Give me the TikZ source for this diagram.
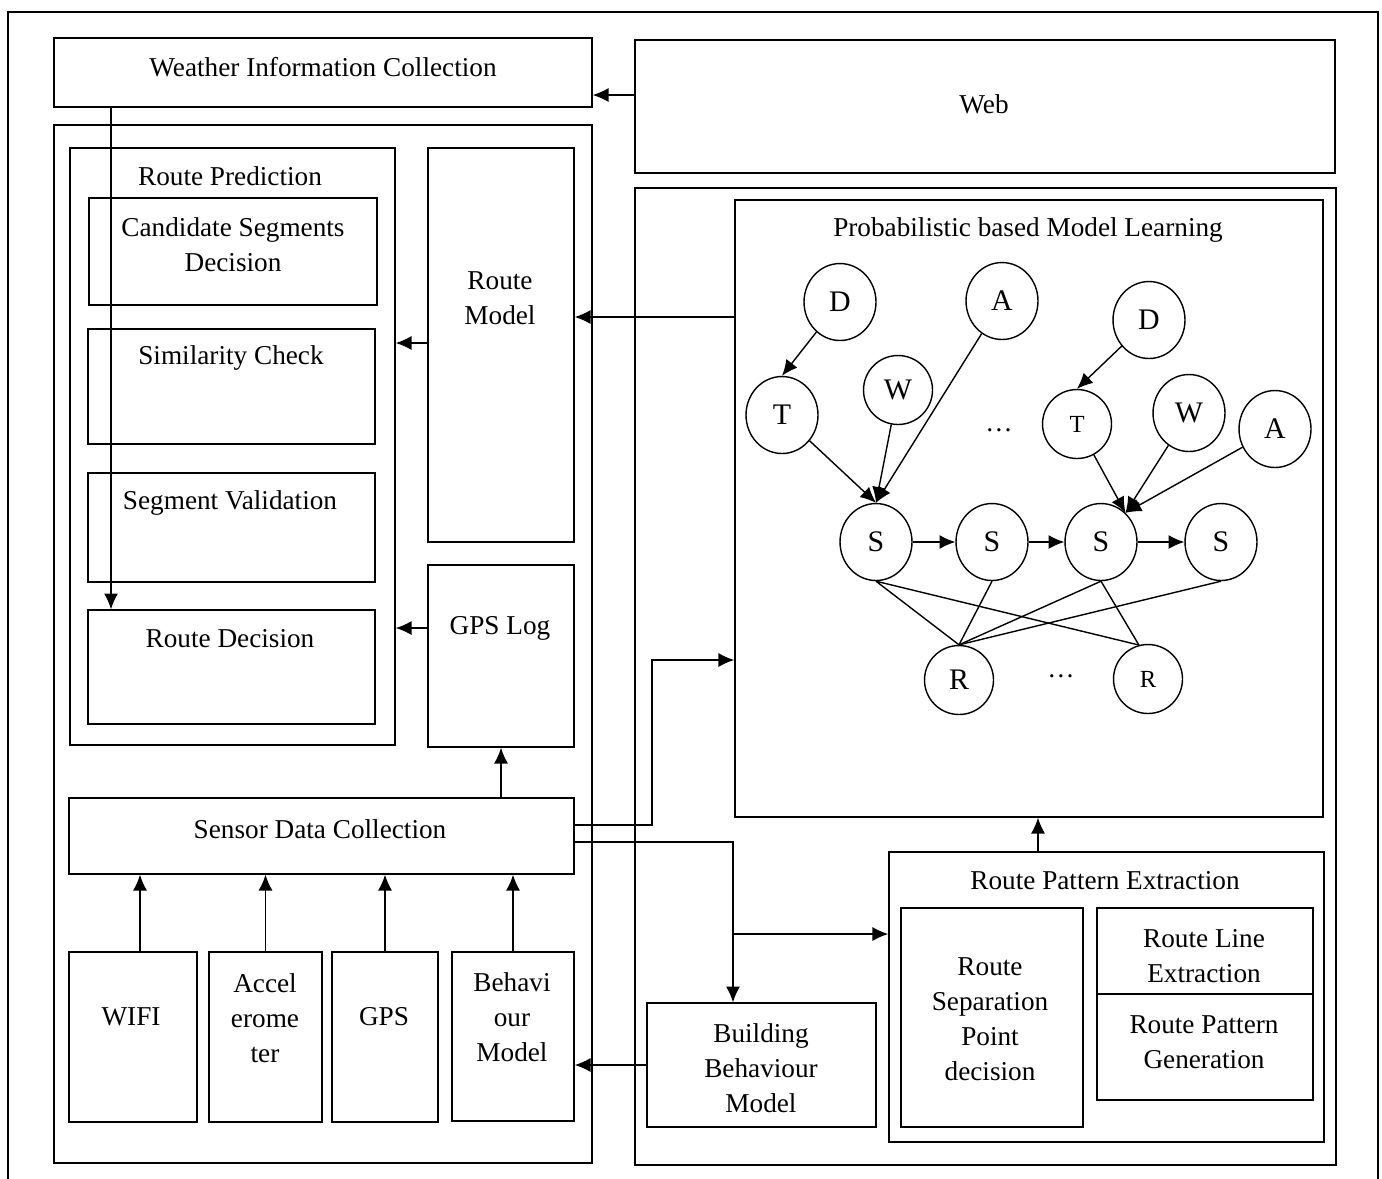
\documentclass[tikz,border=0pt]{standalone}
\usepackage{fontspec}
\setmainfont{Liberation Serif}
\usetikzlibrary{arrows.meta, fit, shapes.geometric}

\begin{document}
\begin{tikzpicture}[x=0.02cm, y=-0.02cm, line width=0.8pt, font=\fontsize{15.5}{20}\selectfont]
	\tikzset{
		box/.style={
			draw,
			inner sep=0pt,
			align=center
		},
		txt/.style={
			align=center,
			inner sep=1pt
		},
		var/.style={
			draw,
			ellipse,
			inner sep=0pt,
			minimum width=1.44cm,
			minimum height=1.54cm,
			font=\fontsize{17}{20}\selectfont
		},
		small var/.style={
			var,
			minimum width=1.38cm,
			minimum height=1.38cm
		},
		flow/.style={-{Latex[length=9pt, width=8pt]}},
	}
	\useasboundingbox (0,0) rectangle (1382,1178);

	% frame
	\draw (8,1190) -- (8,12) -- (1378,12) -- (1378,1190);

	% left part
	\node[box, fit={(54,38) (592,107)}] (weather) {};
	\node[txt] (weathertitle) at (323,67) {Weather Information Collection};
	\node[box, fit={(635,40) (1335,173)}] (web) {};
	\node[txt] (webtitle) at (984,104) {Web};
	\node[box, fit={(54,125) (592,1163)}] (leftpart) {};
	\node[box, fit={(70,148) (395,745)}] (pred) {};
	\node[txt] (predtitle) at (230,176) {Route Prediction};
	\node[box, fit={(89,198) (377,305)}] (cand) {};
	\node[txt] (candtitle) at (233,245) {Candidate Segments\\Decision};
	\node[box, fit={(88,329) (375,444)}] (simcheck) {};
	\node[txt] (simtitle) at (231,358) {Similarity Check};
	\node[box, fit={(88,473) (375,582)}] (segval) {};
	\node[txt] (segvaltitle) at (230,503) {Segment Validation};
	\node[box, fit={(88,610) (375,724)}] (decision) {};
	\node[txt] (decisiontitle) at (230,639) {Route Decision};
	\node[box, fit={(428,148) (574,542)}] (model) {};
	\node[txt] (modeltitle) at (500,298) {Route\\Model};
	\node[box, fit={(428,565) (574,747)}] (gpslog) {};
	\node[txt] (gpslogtitle) at (500,628) {GPS Log};
	\node[box, fit={(69,798) (574,874)}] (sensor) {};
	\node[txt] (sensortitle) at (320,829) {Sensor Data Collection};

	\node[box, fit={(69,952) (197,1122)}] (wifi) {};
	\node[txt] (wifitxt) at (131,1017) {WIFI};
	\node[box, fit={(209,952) (322,1122)}] (accel) {};
	\node[txt] (acceltxt) at (265,1018) {Accel\\erome\\ter};
	\node[box, fit={(332,952) (438,1122)}] (gps) {};
	\node[txt] (gpstxt) at (384,1017) {GPS};
	\node[box, fit={(452,952) (574,1121)}] (behav) {};
	\node[txt] (behavtxt) at (512,1017) {Behavi\\our\\Model};

	% right part
	\node[box, fit={(635,188) (1336,1165)}] (rightpart) {};
	\node[box, fit={(735,200) (1323,817)}] (prob) {};
	\node[txt] (probtitle) at (1028,230) {Probabilistic based Model Learning};
	\node[box, fit={(889,852) (1324,1142)}] (rpe) {};
	\node[txt] (rpetitle) at (1105,881) {Route Pattern Extraction};
	\node[box, fit={(901,908) (1083,1127)}] (rsp) {};
	\node[txt] (rsptitle) at (990,1019) {Route\\Separation\\Point\\decision};
	\node[box, fit={(1097,908) (1313,994)}] (rle) {};
	\node[txt] (rletitle) at (1204,956) {Route Line\\Extraction};
	\node[box, fit={(1097,994) (1313,1100)}] (rpg) {};
	\node[txt] (rpgtitle) at (1204,1042) {Route Pattern\\Generation};
	\node[box, fit={(647,1003) (876,1127)}] (building) {};
	\node[txt] (buildingtitle) at (761,1068) {Building\\Behaviour\\Model};

	% graph
	\node[var] (D1) at (840,302) {D};
	\node[var] (A1) at (1002,301) {A};
	\node[var] (T1) at (782,415) {T};
	\node[small var] (W1) at (898,390) {W};
	\node[txt] (dots1) at (999,430) {\dots};
	\node[var] (D2) at (1149,320) {D};
	\node[small var, font=\fontsize{14}{16}\selectfont] (T2) at (1077,424) {T};
	\node[var] (W2) at (1189,413) {W};
	\node[var] (A2) at (1275,429) {A};
	\node[var] (S1) at (876,542) {S};
	\node[var] (S2) at (992,542) {S};
	\node[var] (S3) at (1101,542) {S};
	\node[var] (S4) at (1221,542) {S};
	\node[small var] (R1) at (959,680) {R};
	\node[txt] (dots2) at (1061,676) {\dots};
	\node[small var, font=\fontsize{14}{16}\selectfont] (R2) at (1148,679) {R};

	\draw[flow] (D1) -- (T1.north);
	\draw[flow] (D2) -- (T2.north);
	\foreach \n in {T1, W1, A1}
		\draw[flow] (\n) -- (S1.north);
	\foreach \n in {T2, W2, A2}
		\draw[flow] (\n) -- (S3.50);
	\draw[flow] (S1) -- (S2);
	\draw[flow] (S2) -- (S3);
	\draw[flow] (S3) -- (S4);
	\draw (S1.south) -- (R1.north);
	\draw (S1.south) -- (R2.105);
	\draw (S2.south) -- (R1.north);
	\draw (S3.south) -- (R1.north);
	\draw (S3.south) -- (R2.105);
	\draw (S4.south) -- (R1.north);

	% connectors
	\coordinate (webout) at (635,95);
	\draw[flow] (webout) -- (webout -| weather.east);
	\coordinate (wxout) at (111,107);
	\draw[flow] (wxout) -- (wxout |- decision.north);
	\coordinate (modelout) at (428,343);
	\draw[flow] (modelout) -- (modelout -| pred.east);
	\coordinate (gpslogout) at (428,628);
	\draw[flow] (gpslogout) -- (gpslogout -| pred.east);
	\coordinate (probout) at (735,317);
	\draw[flow] (probout) -- (probout -| model.east);
	\draw[flow] (sensor.north -| gpslog) -- (gpslog.south);
	\coordinate (wifiout) at (140,952);
	\draw[flow] (wifiout) -- (wifiout |- sensor.south);
	\foreach \s in {accel, gps, behav}
		\draw[flow] (\s.north) -- (\s.north |- sensor.south);
	\draw[flow] (building.west) -- (building.west -| behav.east);
	\coordinate (rpeout) at (1038,852);
	\draw[flow] (rpeout) -- (rpeout |- prob.south);
	\coordinate (sensorout1) at (574,825);
	\coordinate (bend1) at (652,660);
	\draw[flow] (sensorout1) -| (bend1) -- (bend1 -| prob.west);
	\coordinate (sensorout2) at (574,842);
	\coordinate (split) at (733,934);
	\draw[flow] (sensorout2) -| (split) -- (split |- building.north);
	\draw[flow] (split) -- (split -| rpe.west);
\end{tikzpicture}
\end{document}
